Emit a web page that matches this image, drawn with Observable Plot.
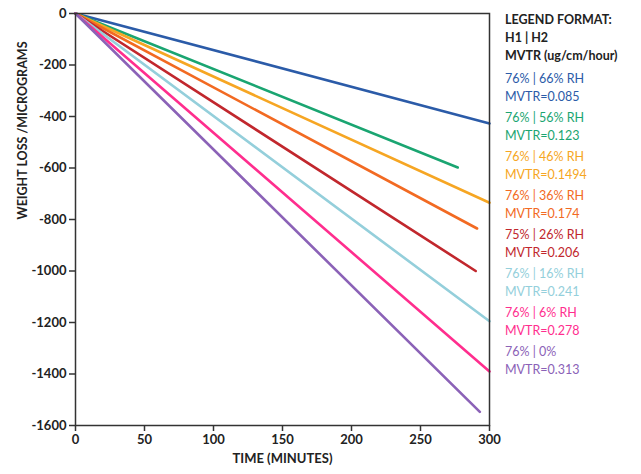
<!DOCTYPE html>
<html><head><meta charset="utf-8">
<script src="https://cdn.jsdelivr.net/npm/d3@7"></script>
<script src="https://cdn.jsdelivr.net/npm/@observablehq/plot@0.6"></script>
<style>
body{margin:0;background:#fff;font-family:Lato,"Noto Sans",sans-serif;}
#wrap{position:relative;width:641px;height:474px;}
#legend{position:absolute;left:505px;top:11px;font-size:12.5px;line-height:18px;}
#legend .hd{font-weight:bold;color:#222;}
#legend .grp{margin-top:3px;}
#legend .grp.first{margin-top:5px;}
</style></head><body>
<div id="wrap"><div id="chart"></div><div id="legend"></div></div>
<script>
const labels1 = ["76% | 66% RH","76% | 56% RH","76% | 46% RH","76% | 36% RH","75% | 26% RH","76% | 16% RH","76% | 6% RH","76% | 0%"];
const mvtr = ["0.085","0.123","0.1494","0.174","0.206","0.241","0.278","0.313"];
const colors = ["#2b5ba8","#1aa571","#f6a623","#f26a22","#c1272d","#94cfdb","#ff2e8e","#8b62b7"];
const endTime = [300,277,300,291,290,300,300,293];
const endLoss = [-427,-598,-735,-835,-1000,-1195,-1390,-1547];
const xTicks = [0,50,100,150,200,250,300];
const yTicks = [0,-200,-400,-600,-800,-1000,-1200,-1400,-1600];

const data = [];
labels1.forEach((l,i)=>{
  data.push({s:l,t:0,w:0,c:colors[i]});
  data.push({s:l,t:endTime[i],w:endLoss[i],c:colors[i]});
});

const chart = Plot.plot({
  width:641,height:474,
  marginLeft:75,marginRight:152,marginTop:13,marginBottom:49,
  style:{fontFamily:"Lato, 'Noto Sans', sans-serif",fontSize:"13px",fontWeight:"bold",color:"#222",background:"white"},
  x:{domain:[0,300],ticks:xTicks,label:null,tickSize:6,tickPadding:4},
  y:{domain:[-1600,0],ticks:yTicks,label:null,tickSize:6,tickPadding:3,tickFormat:d=>`${d}`},
  marks:[
    Plot.line(data,{x:"t",y:"w",z:"s",stroke:"c",strokeWidth:2.6}),
    Plot.frame({stroke:"#333",strokeWidth:1.5}),
    Plot.axisX({ticks:xTicks,tickSize:6,label:null,stroke:"#333",strokeWidth:1.5}),
    Plot.axisY({ticks:yTicks,tickSize:6,label:null,tickFormat:d=>`${d}`,stroke:"#333",strokeWidth:1.5}),
    Plot.text(["TIME (MINUTES)"],{frameAnchor:"bottom",dy:37,fontWeight:"bold",fontSize:13,fill:"#222"}),
    Plot.text(["WEIGHT LOSS /MICROGRAMS"],{frameAnchor:"left",dx:-53,rotate:-90,fontWeight:"bold",fontSize:12.5,fill:"#222"})
  ]
});
document.getElementById("chart").appendChild(chart);

const lg = document.getElementById("legend");
lg.innerHTML = `<div class="hd">LEGEND FORMAT:<br>H1 | H2<br>MVTR (ug/cm/hour)</div>` +
  labels1.map((l,i)=>`<div class="grp${i===0?" first":""}" style="color:${colors[i]}">${l}<br>MVTR=${mvtr[i]}</div>`).join("");
</script>
</body></html>
